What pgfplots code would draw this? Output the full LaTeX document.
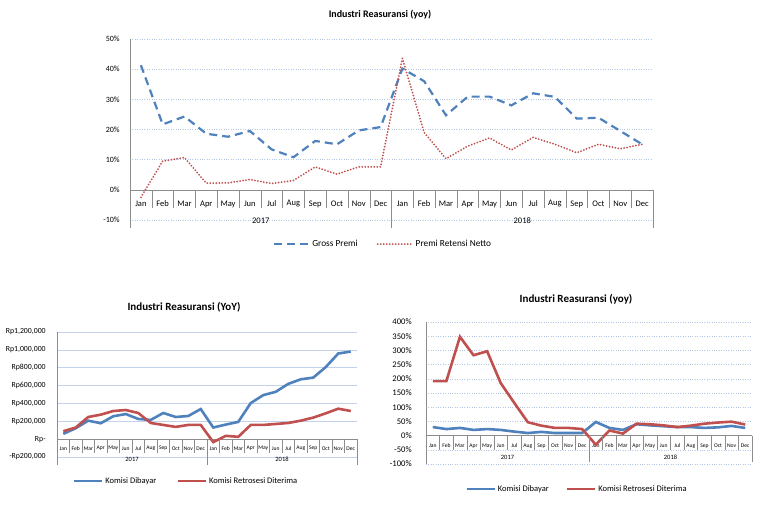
\documentclass[border=0pt]{standalone}
\usepackage{fontspec}
\setmainfont{Carlito}
\usepackage{pgfplots}
\pgfplotsset{compat=1.18}
\definecolor{exblue}{HTML}{4F81BD}
\definecolor{exred}{HTML}{C0504D}
\definecolor{gridc}{HTML}{B4C7E7}
\definecolor{axc}{HTML}{8C8C8C}
\newcommand{\fs}[1]{\fontsize{#1}{#1}\selectfont}
\pgfplotsset{
  common/.style={
    scale only axis, clip=false,
    xmin=0.5, xmax=24.5,
    axis x line=middle, axis y line=left,
    axis line style={-, draw=axc},
    hide obscured x ticks=false, hide obscured y ticks=false,
    scaled y ticks=false,
    xtick={1,...,24},
    xticklabels={Jan,Feb,Mar,Apr,May,Jun,Jul,Aug,Sep,Oct,Nov,Dec,Jan,Feb,Mar,Apr,May,Jun,Jul,Aug,Sep,Oct,Nov,Dec},
    xtick style={draw=none}, ytick style={draw=none},
    ymajorgrids,
    legend columns=2,
    legend image code/.code={\draw[#1] (0pt,0pt) -- (28pt,0pt);},
  }
}
\begin{document}
\begin{tikzpicture}[x=1pt,y=1pt]
\useasboundingbox (0,0) rectangle (772,508);

% ---------------- top chart
\node[font=\bfseries\fs{10}] at (380,493) {Industri Reasuransi (yoy)};
\begin{axis}[common,
  at={(130pt,288pt)}, anchor=south west, width=523pt, height=181pt,
  ymin=-10, ymax=50, ytick={-10,0,...,50},
  yticklabels={-10\%,0\%,10\%,20\%,30\%,40\%,50\%},
  grid style={draw=gridc, dotted},
  yticklabel style={font=\fs{8}, anchor=east, inner sep=0pt, xshift=-8pt},
  xticklabel style={font=\fs{8.5}, anchor=center, inner sep=0pt, yshift=-12pt},
  legend image code/.code={\draw[#1] (0pt,0pt) -- (35pt,0pt);},
  legend style={at={(0.484,-0.133)}, anchor=center, draw=none, fill=none, font=\fs{9.3},
    /tikz/every even column/.append style={column sep=17pt}},
]
\addplot[exblue, line width=2.2pt, dash pattern=on 8pt off 5pt] coordinates {
(1,41.3)(2,21.7)(3,24.3)(4,18.6)(5,17.6)(6,19.5)(7,13.4)(8,10.8)(9,16.2)(10,15.1)(11,19.7)(12,20.8)
(13,40.2)(14,36.0)(15,24.7)(16,30.9)(17,30.9)(18,28.0)(19,32.0)(20,30.8)(21,23.6)(22,23.9)(23,19.5)(24,15.1)};
\addlegendentry{Gross Premi}
\addplot[exred, line width=2pt, dash pattern=on 0pt off 3pt, line cap=round] coordinates {
(1,-2.5)(2,9.5)(3,10.7)(4,2.2)(5,2.3)(6,3.4)(7,2.1)(8,3.1)(9,7.6)(10,5.2)(11,7.6)(12,7.6)
(13,43.6)(14,19.0)(15,10.3)(16,14.5)(17,17.2)(18,13.2)(19,17.4)(20,15.1)(21,12.3)(22,15.1)(23,13.6)(24,15.1)};
\addlegendentry{Premi Retensi Netto}
\pgfplotsinvokeforeach{0,...,24}{\draw[axc] (axis cs:#1.5,0) -- ++(0pt,-18pt);}
\pgfplotsinvokeforeach{0,12,24}{\draw[axc] (axis cs:#1.5,0) -- ++(0pt,-38pt);}
\node[font=\fs{8.5}] at (axis cs:6.5,0) [yshift=-31pt] {2017};
\node[font=\fs{8.5}] at (axis cs:18.5,0) [yshift=-31pt] {2018};
\end{axis}

% ---------------- bottom-left chart
\node[font=\bfseries\fs{11}] at (184,201) {Industri Reasuransi (YoY)};
\begin{axis}[common,
  at={(57pt,51pt)}, anchor=south west, width=300pt, height=125pt,
  ymin=-200000, ymax=1200000, ytick={-200000,0,200000,400000,600000,800000,1000000,1200000},
  yticklabels={-Rp200{,}000,Rp-,Rp200{,}000,Rp400{,}000,Rp600{,}000,Rp800{,}000,Rp1{,}000{,}000,Rp1{,}200{,}000},
  grid style={draw=gridc!80, line width=0.5pt},
  yticklabel style={font=\fs{7.8}, anchor=east, inner sep=0pt, xshift=-9pt},
  xticklabel style={font=\fs{5.6}, anchor=center, inner sep=0pt, yshift=-7pt},
  legend style={at={(0.43,-0.192)}, anchor=center, draw=none, fill=none, font=\fs{8.5},
    /tikz/every even column/.append style={column sep=18pt}},
]
\addplot[exblue, line width=2.6pt] coordinates {
(1,59000)(2,122000)(3,207000)(4,178000)(5,256000)(6,281000)(7,226000)(8,215000)(9,293000)(10,248000)(11,259000)(12,337000)
(13,130000)(14,163000)(15,193000)(16,404000)(17,493000)(18,530000)(19,619000)(20,670000)(21,689000)(22,807000)(23,959000)(24,981000)};
\addlegendentry{Komisi Dibayar}
\addplot[exred, line width=2.6pt] coordinates {
(1,89000)(2,130000)(3,248000)(4,274000)(5,315000)(6,326000)(7,293000)(8,181000)(9,159000)(10,137000)(11,159000)(12,159000)
(13,-33000)(14,37000)(15,26000)(16,159000)(17,159000)(18,170000)(19,181000)(20,207000)(21,241000)(22,289000)(23,341000)(24,315000)};
\addlegendentry{Komisi Retrosesi Diterima}
\pgfplotsinvokeforeach{0,...,24}{\draw[axc] (axis cs:#1.5,0) -- ++(0pt,-14pt);}
\pgfplotsinvokeforeach{0,12,24}{\draw[axc] (axis cs:#1.5,0) -- ++(0pt,-26pt);}
\node[font=\fs{6.5}] at (axis cs:6.5,0) [yshift=-20pt] {2017};
\node[font=\fs{6.5}] at (axis cs:18.5,0) [yshift=-20pt] {2018};
\end{axis}

% ---------------- bottom-right chart
\node[font=\bfseries\fs{11}] at (576,209) {Industri Reasuransi (yoy)};
\begin{axis}[common,
  at={(426pt,44pt)}, anchor=south west, width=326pt, height=142pt,
  ymin=-100, ymax=400, ytick={-100,-50,...,400},
  yticklabels={-100\%,-50\%,0\%,50\%,100\%,150\%,200\%,250\%,300\%,350\%,400\%},
  grid style={draw=gridc, dotted},
  yticklabel style={font=\fs{8.6}, anchor=east, inner sep=0pt, xshift=-12pt},
  xticklabel style={font=\fs{5.6}, anchor=center, inner sep=0pt, yshift=-8pt},
  legend style={at={(0.463,-0.176)}, anchor=center, draw=none, fill=none, font=\fs{8.5},
    /tikz/every even column/.append style={column sep=15pt}},
]
\addplot[exblue, line width=2.6pt] coordinates {
(1,30)(2,23)(3,27)(4,20)(5,23)(6,20)(7,14)(8,9)(9,13)(10,9)(11,9)(12,9)
(13,48)(14,27)(15,20)(16,40)(17,36)(18,33)(19,30)(20,30)(21,27)(22,29)(23,34)(24,27)};
\addlegendentry{Komisi Dibayar}
\addplot[exred, line width=2.6pt] coordinates {
(1,192)(2,192)(3,348)(4,283)(5,297)(6,185)(7,115)(8,47)(9,35)(10,27)(11,27)(12,23)
(13,-32)(14,18)(15,7)(16,42)(17,40)(18,36)(19,30)(20,35)(21,42)(22,46)(23,49)(24,39)};
\addlegendentry{Komisi Retrosesi Diterima}
\pgfplotsinvokeforeach{0,...,24}{\draw[axc] (axis cs:#1.5,0) -- ++(0pt,-14pt);}
\pgfplotsinvokeforeach{0,12,24}{\draw[axc] (axis cs:#1.5,0) -- ++(0pt,-26pt);}
\node[font=\fs{6.5}] at (axis cs:6.5,0) [yshift=-22pt] {2017};
\node[font=\fs{6.5}] at (axis cs:18.5,0) [yshift=-22pt] {2018};
\end{axis}
\end{tikzpicture}
\end{document}
